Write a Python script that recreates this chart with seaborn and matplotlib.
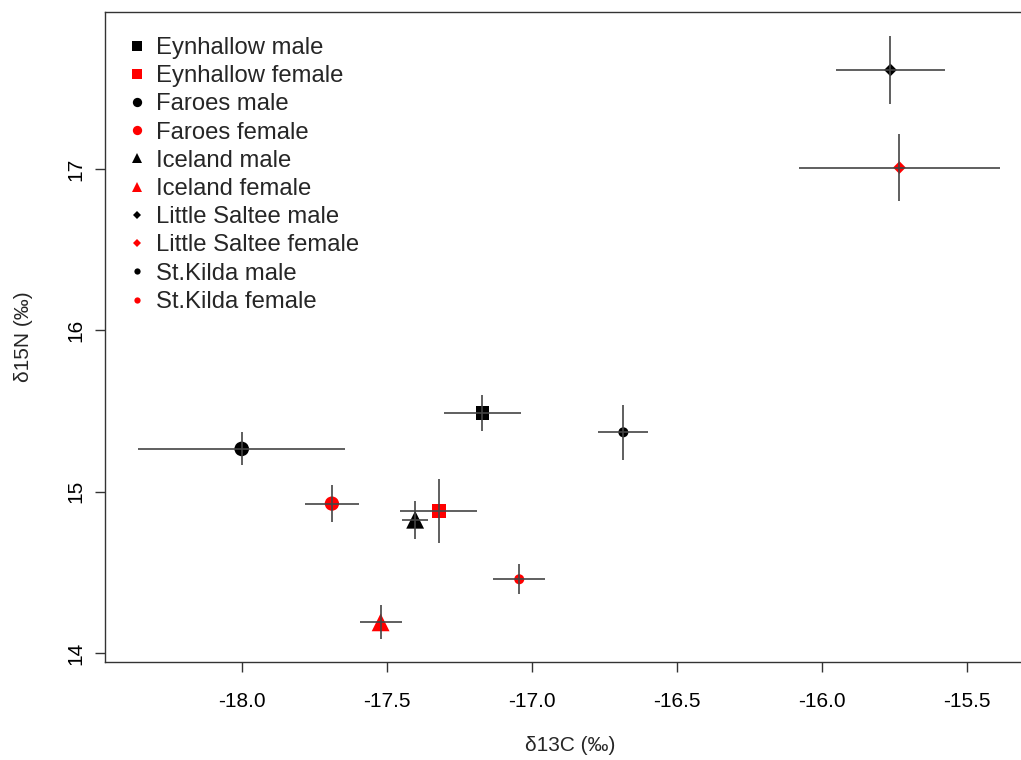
import matplotlib
matplotlib.use("Agg")
import matplotlib.pyplot as plt
from matplotlib.lines import Line2D
import seaborn as sns
import pandas as pd

sns.set_style("white")
plt.rcParams['font.family'] = ['Liberation Sans', 'DejaVu Sans']

labels = ["Eynhallow male", "Eynhallow female", "Faroes male", "Faroes female",
          "Iceland male", "Iceland female", "Little Saltee male", "Little Saltee female",
          "St.Kilda male", "St.Kilda female"]
d13c = [-17.171, -17.322, -18.001, -17.690, -17.403, -17.522, -15.764, -15.733, -16.685, -17.044]
d15n = [15.488, 14.880, 15.265, 14.926, 14.826, 14.190, 17.614, 17.009, 15.368, 14.457]
d13c_err = [0.132, 0.133, 0.357, 0.093, 0.046, 0.072, 0.187, 0.348, 0.086, 0.089]
d15n_err = [0.110, 0.200, 0.102, 0.115, 0.119, 0.105, 0.210, 0.209, 0.172, 0.093]
colors = ["black", "red", "black", "red", "black", "red", "black", "red", "black", "red"]
markers = ["s", "s", "o", "o", "^", "^", "D", "D", "o", "o"]
sizes = [92, 100, 110, 106, 165, 165, 42, 42, 52, 52]
leg_ms = [6.5, 6.5, 6.7, 6.7, 7.8, 7.8, 4.5, 4.5, 4.5, 4.5]

xticks = [-18.0, -17.5, -17.0, -16.5, -16.0, -15.5]
yticks = [14, 15, 16, 17]

df = pd.DataFrame({"label": labels, "x": d13c, "y": d15n,
                   "xe": d13c_err, "ye": d15n_err})

W, H = 1021, 760
fig = plt.figure(figsize=(W / 100, H / 100), dpi=100)
ax = fig.add_axes([105 / W, 1 - 662 / H, (1035 - 105) / W, (662 - 12) / H])

for i, row in df.iterrows():
    sub = df.iloc[[i]]
    sns.scatterplot(data=sub, x="x", y="y", marker=markers[i], color=colors[i],
                    s=sizes[i], edgecolor="none", linewidth=0, ax=ax, zorder=2,
                    legend=False)
    ax.errorbar(row["x"], row["y"], xerr=row["xe"], yerr=row["ye"], fmt="none",
                ecolor="#444444", elinewidth=1.2, capsize=0, zorder=3)

# axis limits from pixel geometry
ax.set_xlim(-18 - 137 / 290, -18 + (1035 - 242) / 290)
ax.set_ylim(14 - 9 / 161.33, 17 + 157 / 161.33)
ax.set_xticks(xticks)
ax.set_xticklabels([f"{v:.1f}" for v in xticks])
ax.set_yticks(yticks)
ax.set_yticklabels([str(v) for v in yticks], rotation=90, va="center")
ax.tick_params(axis="both", direction="out", length=7.2, width=1, colors="#333333",
               labelsize=15, labelcolor="black", bottom=True, left=True)
ax.tick_params(axis="x", pad=14.5)
ax.tick_params(axis="y", pad=6.8)
for sp in ax.spines.values():
    sp.set_color("#333333")
    sp.set_linewidth(1)

ax.set_xlabel("δ13C (‰)", fontsize=15, labelpad=18)
ax.set_ylabel("δ15N (‰)", fontsize=15, labelpad=24.5)

handles = [Line2D([], [], linestyle="none", marker=markers[i], color=colors[i],
                  markersize=leg_ms[i], markeredgewidth=0) for i in range(len(labels))]
leg = ax.legend(handles, labels, loc="upper left", frameon=False, fontsize=17.2,
                bbox_to_anchor=(119 / W, 1 - 37 / H), bbox_transform=fig.transFigure,
                handlelength=1.53, handletextpad=0.02, labelspacing=0.26,
                borderaxespad=0, borderpad=0)

fig.savefig("out.png", dpi=100)
